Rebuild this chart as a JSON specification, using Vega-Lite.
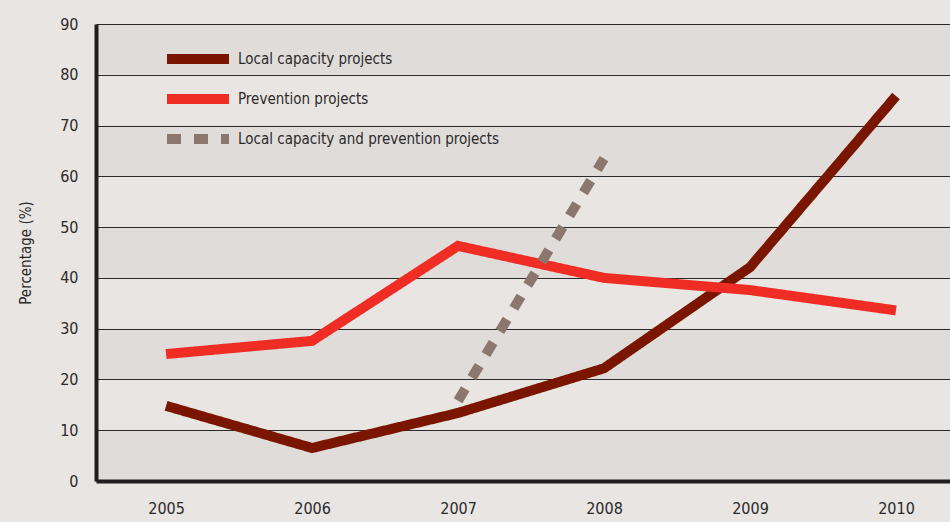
{
  "$schema": "https://vega.github.io/schema/vega-lite/v6.json",
  "width": 854,
  "height": 457,
  "autosize": {"type": "none"},
  "padding": {"left": 96, "top": 24, "right": 0, "bottom": 41},
  "background": "#e9e5e2",
  "config": {
    "view": {"stroke": null, "fill": "#e9e5e2"},
    "font": "DejaVu Sans Condensed, DejaVu Sans, sans-serif",
    "axis": {"labelFont": "DejaVu Sans Condensed, DejaVu Sans, sans-serif", "titleFont": "DejaVu Sans Condensed, DejaVu Sans, sans-serif", "labelColor": "#2a2a2a", "titleColor": "#2a2a2a"},
    "legend": {"labelFont": "DejaVu Sans Condensed, DejaVu Sans, sans-serif"}
  },
  "datasets": {
    "series": [
      {"year": 2005, "series": "Local capacity projects", "value": 14.8},
      {"year": 2006, "series": "Local capacity projects", "value": 6.5},
      {"year": 2007, "series": "Local capacity projects", "value": 13.4},
      {"year": 2008, "series": "Local capacity projects", "value": 22.2},
      {"year": 2009, "series": "Local capacity projects", "value": 42.1},
      {"year": 2010, "series": "Local capacity projects", "value": 75.8},
      {"year": 2005, "series": "Prevention projects", "value": 25.0},
      {"year": 2006, "series": "Prevention projects", "value": 27.6},
      {"year": 2007, "series": "Prevention projects", "value": 46.3},
      {"year": 2008, "series": "Prevention projects", "value": 40.0},
      {"year": 2009, "series": "Prevention projects", "value": 37.6},
      {"year": 2010, "series": "Prevention projects", "value": 33.6},
      {"year": 2007, "series": "Local capacity and prevention projects", "value": 15.8},
      {"year": 2008, "series": "Local capacity and prevention projects", "value": 63.5}
    ],
    "bands": [
      {"lo": 0, "hi": 10},
      {"lo": 20, "hi": 30},
      {"lo": 40, "hi": 50},
      {"lo": 60, "hi": 70},
      {"lo": 80, "hi": 90}
    ]
  },
  "layer": [
    {
      "data": {"name": "bands"},
      "mark": {"type": "rect", "color": "#000000", "opacity": 0.035},
      "encoding": {
        "y": {"field": "lo", "type": "quantitative", "scale": {"domain": [0, 90]}},
        "y2": {"field": "hi"}
      }
    },
    {
      "data": {"name": "series"},
      "mark": {"type": "line", "strokeWidth": 10, "strokeCap": "butt", "strokeJoin": "miter"},
      "encoding": {
        "x": {
          "field": "year", "type": "quantitative",
          "scale": {"domain": [2004.52, 2010.37], "nice": false, "zero": false},
          "axis": {
            "values": [2005, 2006, 2007, 2008, 2009, 2010], "format": "d", "title": null,
            "grid": false, "ticks": false, "domain": true, "domainColor": "#231f20", "domainWidth": 4,
            "labelFontSize": 16, "labelPadding": 19, "labelFontWeight": "normal"
          }
        },
        "y": {
          "field": "value", "type": "quantitative",
          "scale": {"domain": [0, 90], "nice": false},
          "axis": {
            "values": [0, 10, 20, 30, 40, 50, 60, 70, 80, 90], "title": "Percentage (%)",
            "grid": true, "gridColor": "#2b2b2b", "gridWidth": 1.2, "gridOpacity": 1,
            "ticks": false, "domain": true, "domainColor": "#231f20", "domainWidth": 4,
            "labelFontSize": 16, "labelPadding": 18, "labelFontWeight": "normal",
            "titleFontSize": 15, "titleFontWeight": "normal", "titleX": -63
          }
        },
        "color": {
          "field": "series", "type": "nominal",
          "scale": {
            "domain": ["Local capacity projects", "Prevention projects", "Local capacity and prevention projects"],
            "range": ["#7a1500", "#ef2d24", "#8b776e"]
          },
          "legend": {
            "title": null, "orient": "none", "legendX": 66, "legendY": 25,
            "symbolType": "M-1,0H11.4", "symbolSize": 100, "symbolStrokeWidth": 10,
            "labelFontSize": 15, "labelColor": "#2a2a2a", "labelOffset": 56, "rowPadding": 0,
            "labelLimit": 500, "padding": 0
          }
        },
        "strokeDash": {
          "field": "series", "type": "nominal",
          "scale": {
            "domain": ["Local capacity projects", "Prevention projects", "Local capacity and prevention projects"],
            "range": [[1, 0], [1, 0], [14, 13]]
          },
          "legend": {
            "title": null, "orient": "none", "legendX": 66, "legendY": 25,
            "symbolType": "M-1,0H11.4", "symbolSize": 100, "symbolStrokeWidth": 10,
            "labelFontSize": 15, "labelColor": "#2a2a2a", "labelOffset": 56, "rowPadding": 0,
            "labelLimit": 500, "padding": 0
          }
        }
      }
    }
  ]
}
